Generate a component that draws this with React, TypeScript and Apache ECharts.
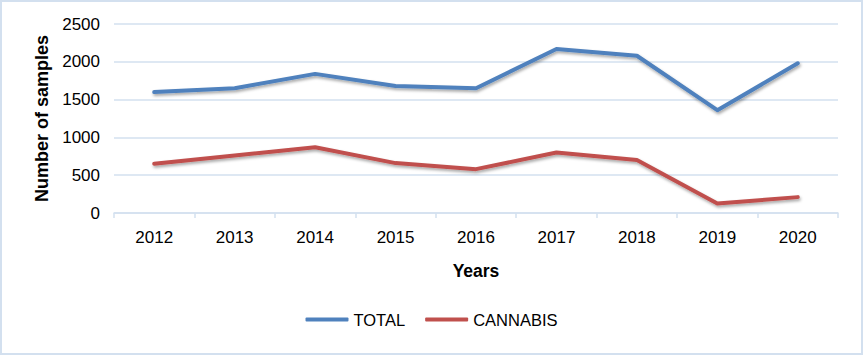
import React, { useEffect, useRef } from "react";
import * as echarts from "echarts";

const years = ["2012", "2013", "2014", "2015", "2016", "2017", "2018", "2019", "2020"];
const totalValues = [1600, 1650, 1840, 1680, 1650, 2170, 2080, 1360, 1980];
const cannabisValues = [650, 760, 870, 660, 580, 800, 700, 125, 210];
const yTicks = [0, 500, 1000, 1500, 2000, 2500];

const FONT = "'Liberation Sans', Arial, sans-serif";

export default function App() {
  const ref = useRef<HTMLDivElement>(null);
  useEffect(() => {
    document.body.style.margin = "0";
    const chart = echarts.init(ref.current!, null, { renderer: "svg" });
    const lineShadow = {
      shadowColor: "rgba(0,0,0,0.35)",
      shadowBlur: 3,
      shadowOffsetX: 1,
      shadowOffsetY: 2,
    };
    chart.setOption({
      animation: false,
      backgroundColor: "#ffffff",
      textStyle: { fontFamily: FONT },
      graphic: [
        {
          type: "rect",
          shape: { x: 1, y: 1, width: 861, height: 353 },
          style: { fill: "none", stroke: "#d3e0ef", lineWidth: 2 },
          silent: true,
        },
      ],
      grid: { left: 114, right: 25, top: 24, bottom: 142 },
      legend: {
        bottom: 22,
        left: "center",
        itemWidth: 43,
        itemHeight: 4,
        itemGap: 20,
        icon: "roundRect",
        textStyle: { fontSize: 16.5, color: "#000", fontFamily: FONT },
        data: ["TOTAL", "CANNABIS"],
      },
      xAxis: {
        type: "category",
        data: years,
        boundaryGap: true,
        name: "Years",
        nameLocation: "middle",
        nameGap: 49,
        nameTextStyle: { fontSize: 17.5, fontWeight: "bold", color: "#000", fontFamily: FONT },
        axisLine: { lineStyle: { color: "#d3e0ef", width: 1.5 } },
        axisTick: { show: true, length: 5, lineStyle: { color: "#d3e0ef", width: 1.5 } },
        axisLabel: { fontSize: 17, color: "#000", margin: 16, fontFamily: FONT },
      },
      yAxis: {
        type: "value",
        min: 0,
        max: 2500,
        interval: 500,
        name: "Number of samples",
        nameLocation: "middle",
        nameGap: 60,
        nameTextStyle: { fontSize: 18, fontWeight: "bold", color: "#000", fontFamily: FONT },
        axisLine: { show: false },
        axisTick: { show: false },
        axisLabel: {
          fontSize: 17,
          color: "#000",
          margin: 14,
          fontFamily: FONT,
          formatter: (v: number) => (yTicks.includes(v) ? String(v) : ""),
        },
        splitLine: { lineStyle: { color: "#d3e0ef", width: 1.5 } },
      },
      series: [
        {
          name: "TOTAL",
          type: "line",
          data: totalValues,
          symbol: "none",
          color: "#4f81bd",
          lineStyle: { width: 4, color: "#4f81bd", cap: "round", join: "round", ...lineShadow },
        },
        {
          name: "CANNABIS",
          type: "line",
          data: cannabisValues,
          symbol: "none",
          color: "#c0504d",
          lineStyle: { width: 4, color: "#c0504d", cap: "round", join: "round", ...lineShadow },
        },
      ],
    });
    return () => chart.dispose();
  }, []);
  return <div ref={ref} style={{ width: 863, height: 355 }} />;
}
